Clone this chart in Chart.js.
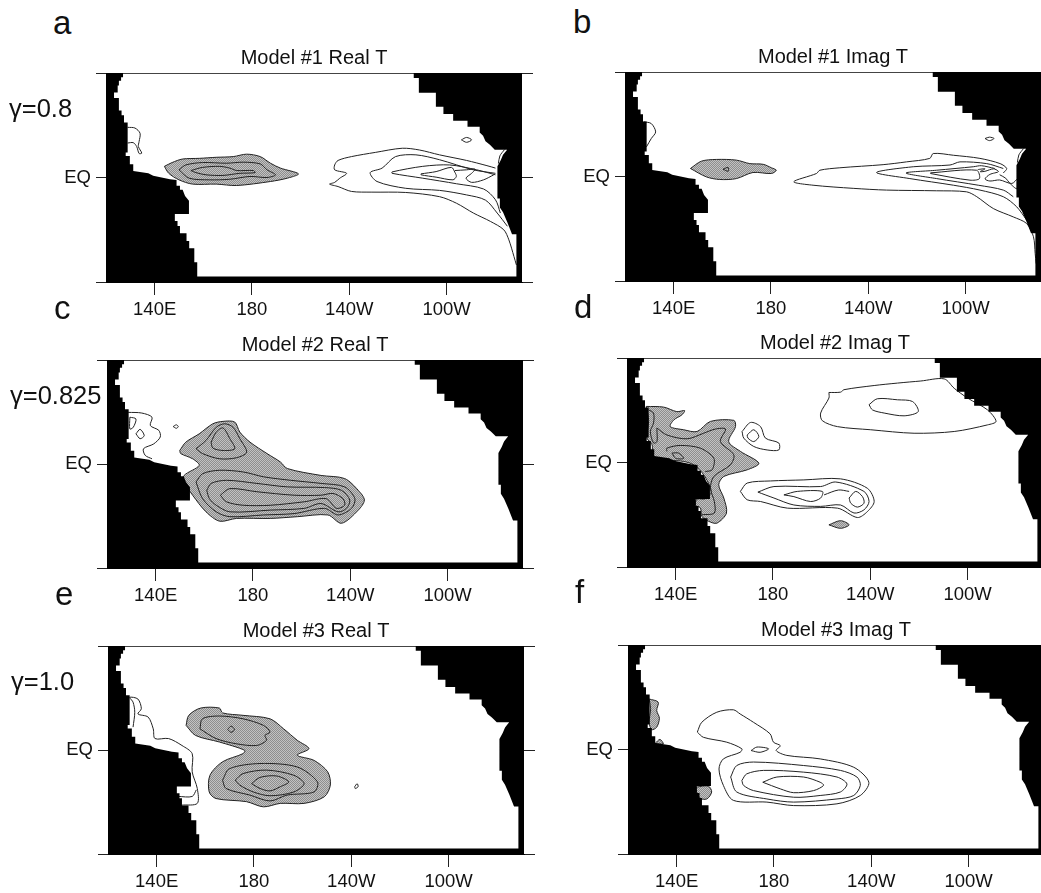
<!DOCTYPE html>
<html>
<head>
<meta charset="utf-8">
<title>Model T patterns</title>
<script src="https://cdn.jsdelivr.net/npm/chart.js@4"></script>
<style>
  html, body { margin: 0; padding: 0; width: 1041px; height: 893px; overflow: hidden; background: #fff; }
  canvas { position: absolute; }
  .tag { position: absolute; font-family: "Liberation Sans", sans-serif; color: #111; line-height: 1; white-space: nowrap; }
</style>
</head>
<body>
<script>
// Axis values and labels
const lonTicks = [140, 180, 220, 260];
const lonLabels = ["140E", "180", "140W", "100W"];
const latTicks = [-30, 0, 30];
const latLabels = ["", "EQ", ""];
const titles = ["Model #1 Real T", "Model #1 Imag T", "Model #2 Real T", "Model #2 Imag T", "Model #3 Real T", "Model #3 Imag T"];
const letters = ["a", "b", "c", "d", "e", "f"];
const gammas = ["γ=0.8", "γ=0.825", "γ=1.0"];

// Land mask, [lon, lat]
const westCoast = [[120,30],[127,30],[127,28.8],[126.2,28.8],[126.2,27.8],[125.3,27.8],[125.3,26.4],[124.8,26.4],[124.8,24.4],[123.3,24.4],[123.3,22.8],[125.3,22.8],[125.3,19.2],[126.4,19.2],[126.4,17.9],[127.4,17.9],[127.4,15.8],[128.9,15.8],[128.9,7.2],[128.1,7.2],[128.1,6.2],[129.8,6.2],[129.8,3.8],[131.2,3.8],[131.2,1.9],[137.4,1.2],[139.4,0.5],[146.3,-0.5],[149,-0.7],[149,-2.4],[150.4,-2.4],[150.4,-3.5],[151.5,-3.5],[152.5,-5.3],[154.1,-6.7],[154.1,-10.5],[148.3,-10.5],[148.3,-12.5],[149.4,-12.5],[149.4,-13.9],[150.4,-13.9],[150.4,-16],[153.1,-16],[153.1,-18.2],[154.2,-18.2],[154.2,-20.3],[156.3,-20.3],[156.3,-24.3],[157.5,-24.3],[157.5,-28.4]];
const eastCoast = [[288.7,-28.4],[288.7,-16.3],[286.9,-16.3],[285,-12.9],[283.2,-10],[281.9,-8.6],[281.9,-6],[280.9,-6],[280.9,3.2],[282.3,5],[283.2,6.5],[284.9,8],[279.8,8],[277.8,9.4],[276,10.4],[275,12],[273.6,12.9],[273.6,14.6],[268.6,14.6],[268.6,16.3],[262.7,16.3],[262.7,18.2],[258.7,18.2],[258.7,20.3],[255.6,20.3],[255.6,24.35],[248.6,24.35],[248.6,28.6],[246.5,28.6],[246.5,30],[291,30],[291,-30],[120,-30]];

// Panel a
const shadedA = [
  [[144,3.2],[147.2,4.3],[151.4,5.3],[158.4,5.5],[165.3,5.8],[172.3,6],[177.8,6.7],[183.4,6],[187.6,4.1],[191.7,2.7],[199.1,1.05],[194.5,-.2],[187.6,-1.15],[173.7,-2.3],[165.3,-1.9],[155.6,-1.9],[150,-.67],[145.8,1.2]]
];
const closedA = [
  [[150,2.2],[152.8,3.6],[159.7,4.3],[169.5,4.1],[176.4,4.4],[183.4,3.9],[186.2,2.2],[189.7,.77],[186.2,0],[179.2,.3],[170.9,-.5],[162.5,-.67],[154.2,-.2]],
  [[154.9,2],[159.7,2.9],[166.7,3.2],[170.9,2.7],[173.7,2],[180.6,2],[181.3,1.4],[175,1.2],[168.1,.6],[161.1,.77],[157,1.4]],
  [[249.5,1.05],[255.7,1.7],[262,2.9],[263.4,1.5],[264,.3],[262.6,-.67],[255.7,.1],[249.5,.77]],
  [[266.1,10.8],[268.2,11.5],[270.3,10.8],[268.2,10.1]]
];
const openA = [
  [[128.9,14.4],[131.9,14.2],[134,12.7],[133.6,10.3],[133.3,8.9],[134.7,7],[133.6,6.9],[132.6,8.9],[131.2,10],[128.9,9.9]],
  [[280.1,2.7],[276.6,3.4],[268.2,4.9],[257.1,6.5],[248.8,7.9],[241.8,8.4],[230.7,7.2],[220.9,6],[215.4,4.9],[214,3.6],[214,2.2],[218.9,1.2],[216.1,-.2],[214,-1.4],[211.9,-1.9],[215.4,-2.6],[220.9,-4],[229.3,-4.2],[243.2,-4.3],[257.1,-5.5],[264.1,-7.4],[271,-10.2],[278,-12.6],[283.5,-15],[285.6,-17.9],[287.7,-22.7],[288.7,-25.1]],
  [[280.1,1.2],[271,2.2],[257.1,5.1],[247.4,6.5],[239,6],[233.5,2.7],[228.6,1.4],[231.4,-1.15],[243.2,-3.1],[257.1,-3.7],[268.2,-5],[276,-6.5],[280.8,-10.2],[285,-14]],
  [[280.1,.77],[272.4,2.2],[261.3,3.6],[250.2,3.2],[237.6,1.6],[237.6,1.2],[250.2,-.2],[264.1,-1.8],[275.2,-3.3],[280.1,-6.4],[282.1,-10.2]],
  [[263.4,2],[268.2,2.2],[271.7,2.4],[270.3,1.2],[268,-.2],[270.3,-1.4],[275.2,-.67],[279.4,.77]],
  [[283.8,8],[281.9,6.2],[281.3,4]]
];

// Panel b
const shadedB = [
  [[146.9,2.3],[151.4,4.4],[157.6,4.9],[165.8,4.7],[171.3,3.7],[176.8,3.5],[180.2,2.5],[182.2,1.8],[180.2,.86],[172.6,1.15],[165.8,-.6],[158.9,-.86],[153.4,-.1]]
];
const closedB = [
  [[160.3,2.1],[162.4,2.6],[162.4,1.5]],
  [[245.6,1.05],[264.5,1.8],[265.7,-.6],[261.8,-1.05],[245.6,.86]],
  [[268,10.9],[269.8,11.3],[271.7,10.9],[269.8,10.3]]
];
const openB = [
  [[127.7,15.7],[130.8,15.2],[132.6,12.8],[130.8,10.9],[128.8,8.5]],
  [[275.5,1],[276.9,2.3],[274.2,3.7],[265.9,5.2],[255,6.1],[246.7,6.6],[245.3,5.2],[235.7,4.2],[226.1,3.4],[208.3,2.5],[200.1,1.8],[198.7,.86],[189.4,-1.5],[197.3,-2.5],[213.8,-3.4],[227.5,-3.9],[248.1,-4.1],[260.4,-4.4],[264.6,-5.8],[271.4,-9.2],[279.6,-11.6],[285.1,-13.5],[287.9,-17.3],[288.6,-22.1],[289,-25]],
  [[275.5,2.3],[268.7,3.7],[257.7,4.2],[253.6,3.3],[238.5,2.8],[223.4,1.15],[237.1,-.6],[255,-2.5],[265.9,-3.9],[275.5,-5.8],[281,-8.7],[285.1,-12.5]],
  [[279.6,-5.8],[275.5,-3.9],[265.2,-2.5],[248.1,-.6],[235.5,1],[248.1,1.8],[263.2,2.8],[266.5,3.1],[272,2.3]],
  [[265,2],[268,2.2],[266,1.4],[268,1.5],[271.5,2.2],[273.5,1.4],[270,.6],[268,-.7],[270,-1.3],[274,-1],[279,-2],[281.5,-.5]],
  [[274,.5],[276.5,-.5],[278,-1.8],[281,-3.5],[281.3,-1.5]],
  [[283.8,8],[281.9,6.2],[281.3,4]]
];

// Panel c
const shadedC = [
  [[149.9,3.9],[152.4,6.3],[157.9,8.7],[163.5,11.6],[167.7,12.3],[172.5,12.1],[174.6,9.2],[178.8,6.3],[185.8,3],[191.3,.57],[194.1,-1.3],[208,-3.3],[217.7,-4.2],[223.3,-7.6],[225.8,-10.4],[223.3,-13.3],[216.4,-17.1],[210.8,-14.7],[198.3,-15.2],[187.1,-15.7],[173.2,-15.7],[166.3,-16.5],[160.7,-13.8],[155.2,-9],[151.7,-5.2],[151.7,-3.3],[157.9,-.4],[155.2,1.5],[150.3,3]]
];
const closedC = [
  [[129.4,13.5],[131.9,13],[130.8,10.6],[129.4,10.1]],
  [[131.9,8.7],[133.6,7.3],[135.3,8.2],[133.6,10]],
  [[147.2,10.8],[148.5,11.3],[149.3,10.8],[148.5,10.3]],
  [[156.6,4.4],[160.7,6.8],[164.9,10.6],[168.4,11.6],[171.8,10.6],[174.6,7.3],[177.4,3.4],[173.2,1.8],[166.3,1.5],[159.3,3]],
  [[162.8,6.3],[164.9,9.2],[167.7,10.4],[170.5,7.3],[172.5,4.4],[167.7,3.9],[163.5,4.6]],
  [[156.6,-5.2],[159.3,-2.8],[166.3,-1.8],[176,-2.3],[184.4,-3.7],[195.5,-4.7],[208,-5.6],[217.7,-6.6],[221.9,-10],[220.5,-12.8],[215,-14.7],[209.4,-12.8],[196.9,-14.3],[184.4,-14.7],[170.5,-15.2],[164.9,-13.8],[159.3,-10]],
  [[161,-7.6],[162.8,-5.6],[169.1,-4.7],[181.6,-5.6],[194.1,-6.6],[209.4,-6.8],[216.4,-7.6],[219.8,-10.4],[218.4,-12.8],[215,-13.8],[208,-11.4],[201.1,-12.8],[187.1,-13.3],[170.5,-13.8],[164.9,-11.9],[162.1,-10]],
  [[166.6,-9],[170.5,-7.1],[181.6,-8],[196.9,-9],[208,-9],[212.9,-8.5],[217,-10],[217.7,-11.9],[214.3,-12.8],[210.1,-10],[201.1,-10.9],[187.1,-11.9],[176,-11.9],[169.1,-10.9]]
];
const openC = [
  [[128.7,14.9],[134.3,14.7],[138.5,13.5],[137.8,11.1],[141.3,9.7],[141.9,7.8],[139.2,5.8],[135,4.4],[135.7,2.5],[138.5,1.5]]
];

// Panel d
const shadedD = [
  [[127.9,16.1],[135.1,15.9],[140.5,14.6],[143.7,14.9],[142.6,13.7],[139.2,12.2],[137.8,10.3],[143.3,9.4],[148.8,8.9],[154.3,11.8],[163.9,12.1],[164.6,10.3],[161.8,6],[166.6,3.2],[174.2,-.2],[169.4,-2.1],[159.8,-4],[157.7,-6.4],[159.8,-10.2],[160.9,-14.5],[157,-17.4],[153.6,-16.9],[150.8,-15.5],[150.2,-13.1],[148.1,-12.2],[148.8,-10.5],[152.2,-10.4],[154.6,-8.3],[151.5,-3.5],[147.4,-.67],[143.3,.3],[130.9,1.5],[130.3,5.1],[128.2,7],[128.9,12]],
  [[203,-17.9],[207.8,-16.7],[211.3,-17.9],[207.8,-18.9]]
];
const closedD = [
  [[138.5,2.7],[141.2,2.7],[143.3,1.2],[140,1.2]],
  [[203,20.1],[207.8,20.2],[209.2,20.9],[221.6,22.1],[231.2,22.8],[240.8,23.4],[250.4,24],[254.5,21.3],[260,18.5],[268.2,15.1],[271.7,11.8],[268.2,10.8],[254.5,8.9],[238,8.4],[220.2,9.4],[206.5,10.3],[200.3,12],[199.6,14.2],[203,18.5]],
  [[219.5,16.6],[222.9,18.3],[231.2,18],[237.4,17.5],[239.7,14.6],[233.9,13.4],[225.7,14.2],[220.9,15.1]],
  [[167.3,8.9],[170.8,11.5],[174.9,10.3],[176.9,7],[182.4,5.6],[182.4,3.6],[177.6,3.6],[172.1,4.6],[168,7]],
  [[169.4,7.9],[172.1,9.4],[174.2,7.5],[172.1,6],[169.7,7]],
  [[166.6,-8.3],[169.4,-5.9],[179,-5.3],[192.7,-5],[207.8,-4.7],[218.8,-7.4],[221.6,-11.2],[218.8,-14.1],[214.7,-15.8],[206.5,-13.1],[185.9,-13.1],[174.9,-11.2],[169.4,-10.7]],
  [[173.8,-8.5],[180.4,-6.9],[199.6,-6.9],[205.8,-5.6],[217.4,-8.3],[219.5,-11.2],[217.4,-13.6],[213.3,-14.5],[207.8,-12.2],[199.6,-12.6],[188.6,-12.2],[180.4,-10.2]],
  [[184.5,-9.3],[190,-8.3],[200.3,-8.3],[199.6,-10.2],[195.5,-11.2],[188.6,-9.8]],
  [[211.3,-10.2],[214,-8.3],[216.8,-9.8],[217.4,-11.7],[214.7,-12.8],[212,-11.7]]
];
const openD = [
  [[132.3,9.9],[136.4,7.9],[144.7,6.8],[151.5,8.4],[156.3,9.6],[160.5,9.6],[158.4,6],[163.9,2.2],[162.5,-.67],[155.7,-4],[154.3,-7.4],[155.9,-11.2],[155.9,-14.5],[150.8,-15]],
  [[136.4,3.2],[136.4,4.1],[141.9,4.9],[150.2,4.1],[155.7,1.2],[155,-2.1],[152.2,-2.6]],
  [[128.9,15.1],[130.9,14.2],[130.9,11.3],[129.6,8.9],[130.9,5.6],[132.3,6],[132.3,9.4],[132.3,9.9]],
  [[201,-9.3],[206.9,-7.9],[211.3,-8.3]]
];

// Panel e
const shadedE = [
  [[152.1,7.1],[153.2,10],[158.1,12.1],[165.8,12.1],[167.1,10.7],[175.5,10],[186.6,9],[192.2,6.1],[197.8,2.8],[202.6,.4],[197.8,-1.5],[204.7,-3],[210.3,-6.3],[211.4,-10.1],[208.9,-13.5],[200.6,-15.4],[190.8,-15.4],[183.9,-16.4],[176.9,-14.9],[164.4,-14],[161.6,-12.1],[161.9,-7.3],[167.1,-3.4],[175.5,-1.05],[176.2,-.1],[165.8,2.3],[156,4.2]]
];
const closedE = [
  [[157.8,6.1],[158.8,9],[165.8,9.8],[175.5,9],[183.9,7.1],[186.6,5.2],[184.5,4.2],[185.2,2.8],[181.1,1.3],[172.7,1.8],[164.4,3.3]],
  [[169.2,5.9],[170.6,6.9],[172,5.9],[170.6,5.1]],
  [[167.1,-8.7],[169.9,-5.4],[182.5,-3.9],[197.8,-4.9],[206.1,-9.2],[204.7,-12.1],[193.6,-13],[186.6,-14.7],[178.3,-13],[168.5,-11.1]],
  [[172.3,-8.7],[175.5,-6.8],[185.2,-5.8],[196.4,-7.3],[200.6,-9.7],[196.4,-12.1],[186.6,-13.2],[179.7,-12.1],[174.1,-10.1]],
  [[179,-9.7],[182.5,-7.9],[189.4,-7.5],[194.3,-9.2],[190.8,-10.6],[186.6,-11.8],[182.5,-11.1]],
  [[221.4,-10.6],[222.4,-9.7],[222.8,-10.6],[221.6,-11.1]]
];
const openE = [
  [[130.3,6.6],[131,10.9],[130.3,13.8],[128.9,15.2],[132.3,14.7],[133.7,11.9],[132.3,10.4],[136.5,9.5],[138.6,6.1],[139.3,3.3],[144.9,3.3],[150.4,1.3],[154.6,-1.05],[154.6,-6.3],[156.7,-11.1],[156.7,-15.4],[150.4,-15.9]],
  [[148.9,-13.4],[154.6,-13.4],[156.3,-11.5]]
];

// Panel f
const shadedF = [
  [[128.7,14.5],[132.4,13.6],[131.8,11.2],[132.9,9],[131.8,6.4],[129.7,5.7],[128.7,7.8],[129.3,11.7]],
  [[131.1,1.7],[133.1,2.9],[134.5,1.6]],
  [[148,-10.8],[153,-10.5],[154.4,-12.2],[152.4,-14.2],[149.6,-14],[148.2,-12.2]]
];
const closedF = [
  [[148.5,5],[150.3,7.8],[156.5,10.7],[163.3,11.4],[166.1,10.2],[171.6,7.8],[178.4,4.5],[179.8,2.1],[182.6,1.1],[180.9,-.3],[185.3,-1.7],[199,-2.7],[212.8,-5.1],[219,-9.4],[215.5,-13.2],[205.9,-15.6],[188.1,-16.1],[177.1,-15.1],[163.3,-14.6],[159.2,-10.3],[157.4,-5.6],[159.2,-2.7],[166.1,-.8],[166.8,.2],[160.6,2.1],[151,3.5]],
  [[162.2,-7.9],[164.7,-4.6],[171.6,-3.6],[192.2,-4.6],[207.3,-6],[214.1,-7.9],[215.5,-10.3],[212.8,-13.2],[205.9,-14.2],[188.1,-15.1],[177.1,-14.2],[164.7,-12.2]],
  [[166.8,-8.9],[168.8,-7],[175.7,-6],[192.2,-6.5],[205.9,-7.9],[210,-9.9],[207.3,-12.2],[199,-13.2],[188.1,-13.7],[171.6,-11.8],[167.5,-10.3]],
  [[175.4,-9.4],[181.2,-7.9],[192.2,-7.9],[199,-9.4],[200.4,-10.3],[196.3,-11.8],[188.1,-12.4],[182.6,-11.3]],
  [[170.6,-.3],[173,.7],[177.8,.2],[174.3,-.8]]
];
const openF = [];

const panelShaded = [shadedA, shadedB, shadedC, shadedD, shadedE, shadedF];
const panelClosed = [closedA, closedB, closedC, closedD, closedE, closedF];
const panelOpen = [openA, openB, openC, openD, openE, openF];

// Layout in page pixels
const plotBoxes = [
  { left: 106, top: 73, height: 209 },
  { left: 625, top: 72, height: 209 },
  { left: 107, top: 360, height: 208 },
  { left: 627, top: 358, height: 209 },
  { left: 108, top: 646, height: 208 },
  { left: 628, top: 645, height: 209 },
];
const plotWidth = 416;
const marginLeft = 104, marginRight = 14, marginTop = 32, marginBottom = 44;
const letterSpots = [[53, 6], [573, 5], [54, 291], [574, 290], [55, 577], [575, 575]];
const gammaSpots = [[9, 96], [10, 383], [11, 669]];

// fine two-tone screen for the shaded areas
const screen = document.createElement("canvas");
screen.width = screen.height = 2;
const sc = screen.getContext("2d");
sc.fillStyle = "#c2c2c2";
sc.fillRect(0, 0, 2, 2);
sc.fillStyle = "#8e8e8e";
sc.fillRect(0, 0, 1, 1);
sc.fillRect(1, 1, 1, 1);
const shadeFill = sc.createPattern(screen, "repeat");

const toPoints = (pairs) => pairs.map((p) => ({ x: p[0], y: p[1] }));
const closeLoop = (pairs) => pairs.concat([pairs[0]]);

const makeDatasets = (i) => {
  const land = {
    label: "Land",
    data: toPoints(westCoast.concat(eastCoast)),
    showLine: true, fill: "shape", backgroundColor: "#000", borderWidth: 0, tension: 0, pointRadius: 0,
  };
  const lines = panelClosed[i].map((c) => ({
    label: "Contour",
    data: toPoints(closeLoop(c)),
    showLine: true, fill: false, borderColor: "#222", borderWidth: 1, tension: 0.3, pointRadius: 0,
  }));
  const open = panelOpen[i].map((c) => ({
    label: "Contour",
    data: toPoints(c),
    showLine: true, fill: false, borderColor: "#222", borderWidth: 1, tension: 0.3, pointRadius: 0,
  }));
  const shaded = panelShaded[i].map((c) => ({
    label: "Shaded",
    data: toPoints(closeLoop(c)),
    showLine: true, fill: "shape", backgroundColor: shadeFill, borderColor: "#222", borderWidth: 1, tension: 0.3, pointRadius: 0,
  }));
  // first dataset is painted last, so land stays on top
  return [land, ...lines, ...open, ...shaded];
};

Chart.defaults.font.family = '"Liberation Sans", sans-serif';
Chart.defaults.color = "#111";

plotBoxes.forEach((box, i) => {
  const canvas = document.createElement("canvas");
  canvas.width = marginLeft + plotWidth + marginRight;
  canvas.height = marginTop + box.height + marginBottom;
  canvas.style.left = box.left - marginLeft + "px";
  canvas.style.top = box.top - marginTop + "px";
  document.body.appendChild(canvas);

  new Chart(canvas, {
    type: "scatter",
    data: { datasets: makeDatasets(i) },
    options: {
      responsive: false,
      animation: false,
      layout: { padding: 0 },
      plugins: {
        legend: { display: false },
        tooltip: { enabled: false },
        title: {
          display: true, text: titles[i], fullSize: false, color: "#111",
          font: { size: 20, weight: "normal", lineHeight: 1.2 },
          padding: { top: 5, bottom: 3 },
        },
      },
      scales: {
        x: {
          type: "linear", min: 120, max: 291,
          afterBuildTicks: (s) => { s.ticks = lonTicks.map((v) => ({ value: v })); },
          afterFit: (s) => { s.height = marginBottom; },
          ticks: {
            autoSkip: false, maxRotation: 0, padding: 4, color: "#111", font: { size: 18.5 },
            callback: (v) => lonLabels[lonTicks.indexOf(v)],
          },
          grid: { drawOnChartArea: false, tickLength: 13, tickColor: "#222" },
          border: { color: "#000" },
        },
        y: {
          type: "linear", min: -30, max: 30,
          afterBuildTicks: (s) => { s.ticks = latTicks.map((v) => ({ value: v })); },
          afterFit: (s) => { s.width = marginLeft; },
          ticks: {
            autoSkip: false, padding: 5, color: "#111", font: { size: 18.5 },
            callback: (v) => latLabels[latTicks.indexOf(v)],
          },
          grid: {
            tickLength: 10, tickColor: "#222",
            color: (c) => (c.tick && c.tick.value === 30 ? "#444" : "transparent"),
          },
          border: { color: "#000" },
        },
        y2: {
          type: "linear", position: "right", min: -30, max: 30,
          afterBuildTicks: (s) => { s.ticks = latTicks.map((v) => ({ value: v })); },
          afterFit: (s) => { s.width = marginRight; },
          ticks: { display: false },
          grid: { drawOnChartArea: false, tickLength: 11, tickColor: "#222" },
          border: { display: false },
        },
      },
    },
  });
});

const addTag = (text, spot, size) => {
  const el = document.createElement("div");
  el.className = "tag";
  el.textContent = text;
  el.style.left = spot[0] + "px";
  el.style.top = spot[1] + "px";
  el.style.fontSize = size + "px";
  document.body.appendChild(el);
};
letters.forEach((t, i) => addTag(t, letterSpots[i], 33));
gammas.forEach((t, i) => addTag(t, gammaSpots[i], 25.5));
</script>
</body>
</html>
